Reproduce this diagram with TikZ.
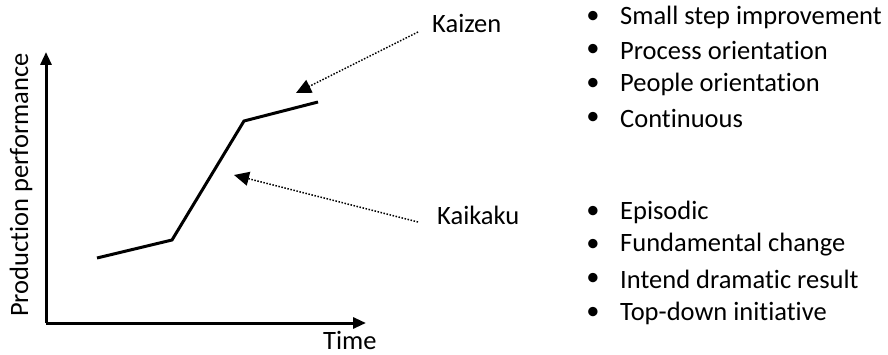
\documentclass[tikz,border=0pt]{standalone}
\usepackage{fontspec}
\setmainfont{Carlito}[Ligatures={NoCommon}]
\usetikzlibrary{arrows.meta}
\begin{document}
\begin{tikzpicture}[x=1pt,y=-1pt,
  lbl/.style={font=\fontsize{26.5}{30}\selectfont, inner sep=0pt},
  item/.style={lbl, anchor=west},
  dot/.style={lbl},
  axis/.style={line width=3pt, -{Triangle[length=13pt,width=11pt]}},
  curve/.style={line width=3pt},
  pointer/.style={line width=1.5pt, dash pattern=on 1.5pt off 1.6pt,
    -{Triangle[length=15pt,width=14pt]}}]
\useasboundingbox (0,0) rectangle (888,355);

% axes
\coordinate (origin) at (46,323);
\coordinate (ytop) at (46,52);
\coordinate (xend) at (366,323);
\draw[axis] (origin) -- (ytop);
\draw[axis] (origin) -- (xend);
\node[lbl, rotate=90] (ylabel) at (21,185) {Production performance};
\node[lbl, anchor=base west] (xlabel) at (323,349) {Time};

% performance curve
\coordinate (p1) at (97,258);
\coordinate (p2) at (172,240);
\coordinate (p3) at (244,121);
\coordinate (p4) at (318,102);
\draw[curve] (p1) -- (p2) -- (p3) -- (p4);

% labels with pointers
\node[lbl, anchor=base west] (kaizen) at (432,33) {Kaizen};
\node[lbl, anchor=base west] (kaikaku) at (437,225) {Kaikaku};
\coordinate (kzstart) at (418,32);
\coordinate (kztip) at (296,93);
\coordinate (kkstart) at (418,222);
\coordinate (kktip) at (234,175);
\draw[pointer] (kzstart) -- (kztip);
\draw[pointer] (kkstart) -- (kktip);

% Kaizen characteristics
\foreach \t/\y [count=\i] in {Small step improvement/17, Process orientation/50,
    People orientation/84, Continuous/118} {
  \node[dot] (kzb\i) at (593,\y) {\textbullet};
  \node[item] (kzt\i) at (620,\y) {\t};
}
% Kaikaku characteristics
\foreach \t/\y [count=\i] in {Episodic/212, Fundamental change/245,
    Intend dramatic result/279, Top-down initiative/313} {
  \node[dot] (kkb\i) at (593,\y) {\textbullet};
  \node[item] (kkt\i) at (620,\y) {\t};
}
\end{tikzpicture}
\end{document}
